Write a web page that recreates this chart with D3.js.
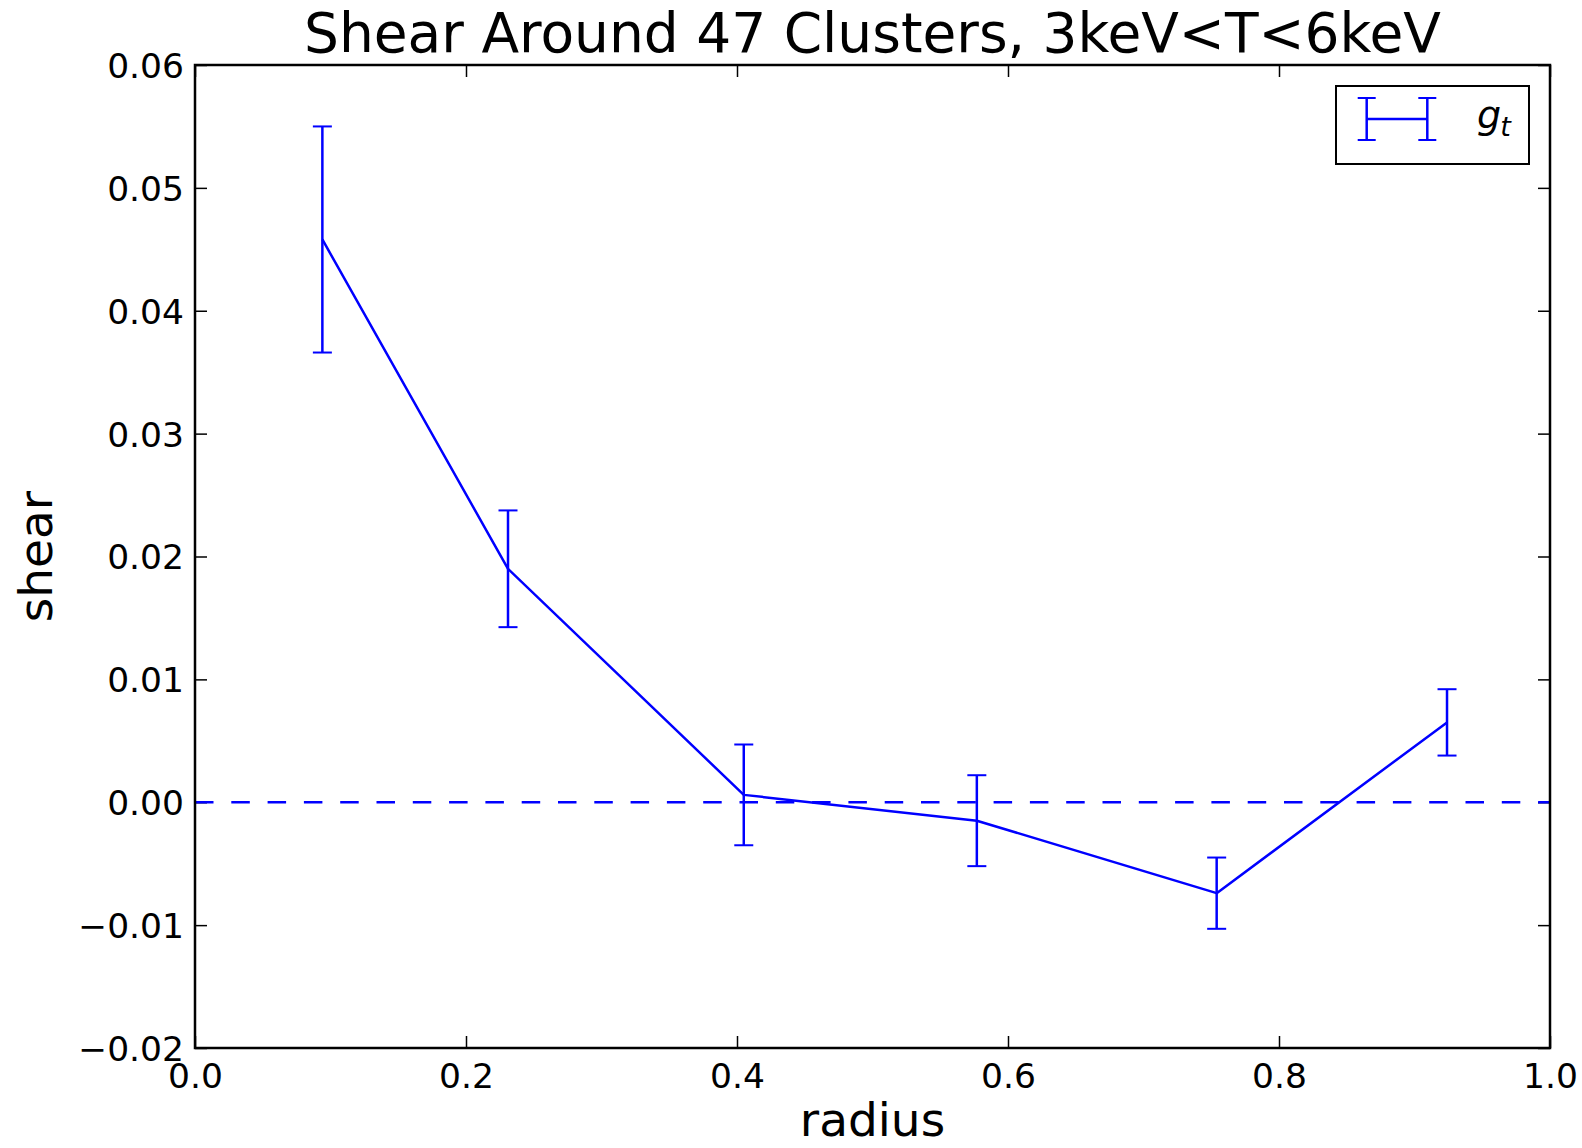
<!DOCTYPE html>
<html>
<head>
<meta charset="utf-8">
<script src="https://cdn.jsdelivr.net/npm/d3@7"></script>
<style>
  html, body { margin: 0; padding: 0; background: #ffffff; }
  svg { display: block; }
  text { font-family: "DejaVu Sans", sans-serif; fill: #000; }
</style>
</head>
<body>
<svg id="chart" width="1582" height="1148"></svg>
<script>
// Tangential shear profile, binned by radius
const radius = [0.094, 0.231, 0.405, 0.577, 0.754, 0.924];
const shear  = [0.0458, 0.0190, 0.0006, -0.0015, -0.0074, 0.0065];
const shearErr = [0.0092, 0.00475, 0.0041, 0.0037, 0.0029, 0.0027];

const xTicks = [0.0, 0.2, 0.4, 0.6, 0.8, 1.0];
const xTickLabels = ["0.0", "0.2", "0.4", "0.6", "0.8", "1.0"];
const yTicks = [-0.02, -0.01, 0.00, 0.01, 0.02, 0.03, 0.04, 0.05, 0.06];
const yTickLabels = ["\u22120.02", "\u22120.01", "0.00", "0.01", "0.02", "0.03", "0.04", "0.05", "0.06"];

const titleText = "Shear Around 47 Clusters, 3keV<T<6keV";
const xLabel = "radius";
const yLabel = "shear";

const W = 1582, H = 1148;
const plot = { left: 195, right: 1550, top: 65, bottom: 1048 };
const blue = "#0000ff";
const tickLen = 12;
const capHalf = 9.5;

const svg = d3.select("#chart");
svg.append("rect").attr("width", W).attr("height", H).attr("fill", "#fff");

const x = d3.scaleLinear().domain([0, 1]).range([plot.left, plot.right]);
const y = d3.scaleLinear().domain([-0.02, 0.06]).range([plot.bottom, plot.top]);

// Axes: ticks point inward on all four sides
function styleAxis(g) {
  g.select(".domain").remove();
  g.selectAll(".tick line").attr("stroke", "#000").attr("stroke-width", 1.5);
}

const axLeft = svg.append("g")
  .attr("transform", `translate(${plot.left},0)`)
  .call(d3.axisLeft(y).tickValues(yTicks)
    .tickFormat((d, i) => yTickLabels[i]).tickSize(-tickLen).tickPadding(11));
styleAxis(axLeft);
axLeft.selectAll(".tick text")
  .attr("font-size", 34.5).attr("font-family", "DejaVu Sans").attr("fill", "#000")
  .attr("dy", "0.36em");

const axBottom = svg.append("g")
  .attr("transform", `translate(0,${plot.bottom})`)
  .call(d3.axisBottom(x).tickValues(xTicks)
    .tickFormat((d, i) => xTickLabels[i]).tickSize(-tickLen).tickPadding(0));
styleAxis(axBottom);
axBottom.selectAll(".tick text")
  .attr("font-size", 34.5).attr("font-family", "DejaVu Sans").attr("fill", "#000")
  .attr("y", 40).attr("dy", 0);

const axRight = svg.append("g")
  .attr("transform", `translate(${plot.right},0)`)
  .call(d3.axisRight(y).tickValues(yTicks).tickFormat("").tickSize(-tickLen));
styleAxis(axRight);

const axTop = svg.append("g")
  .attr("transform", `translate(0,${plot.top})`)
  .call(d3.axisTop(x).tickValues(xTicks).tickFormat("").tickSize(-tickLen));
styleAxis(axTop);

// Zero reference line
svg.append("line")
  .attr("x1", x(0)).attr("x2", x(1))
  .attr("y1", y(0)).attr("y2", y(0))
  .attr("stroke", blue).attr("stroke-width", 2.5)
  .attr("stroke-dasharray", "18.5,17.8");

// Profile line
const pts = radius.map((r, i) => ({ r, v: shear[i], e: shearErr[i] }));
svg.append("path")
  .datum(pts)
  .attr("fill", "none")
  .attr("stroke", blue)
  .attr("stroke-width", 2.5)
  .attr("stroke-linejoin", "round")
  .attr("d", d3.line().x(d => x(d.r)).y(d => y(d.v)));

// Error bars with caps
const eb = svg.append("g").attr("stroke", blue).attr("stroke-width", 2.5);
eb.selectAll(".bar").data(pts).join("line")
  .attr("x1", d => x(d.r)).attr("x2", d => x(d.r))
  .attr("y1", d => y(d.v - d.e)).attr("y2", d => y(d.v + d.e));
eb.selectAll(".capTop").data(pts).join("line")
  .attr("x1", d => x(d.r) - capHalf).attr("x2", d => x(d.r) + capHalf)
  .attr("y1", d => y(d.v + d.e)).attr("y2", d => y(d.v + d.e))
  .attr("stroke-width", 2);
eb.selectAll(".capBot").data(pts).join("line")
  .attr("x1", d => x(d.r) - capHalf).attr("x2", d => x(d.r) + capHalf)
  .attr("y1", d => y(d.v - d.e)).attr("y2", d => y(d.v - d.e))
  .attr("stroke-width", 2);

// Frame
svg.append("rect")
  .attr("x", plot.left).attr("y", plot.top)
  .attr("width", plot.right - plot.left).attr("height", plot.bottom - plot.top)
  .attr("fill", "none").attr("stroke", "#000").attr("stroke-width", 2.5);

// Title and axis labels
svg.append("text")
  .attr("x", (plot.left + plot.right) / 2).attr("y", 52)
  .attr("text-anchor", "middle").attr("font-size", 55)
  .text(titleText);

svg.append("text")
  .attr("x", (plot.left + plot.right) / 2).attr("y", 1136)
  .attr("text-anchor", "middle").attr("font-size", 47)
  .text(xLabel);

svg.append("text")
  .attr("transform", `translate(52,${(plot.top + plot.bottom) / 2}) rotate(-90)`)
  .attr("text-anchor", "middle").attr("font-size", 47)
  .text(yLabel);

// Legend
const leg = svg.append("g");
leg.append("rect")
  .attr("x", 1336).attr("y", 86).attr("width", 193).attr("height", 78)
  .attr("fill", "#fff").attr("stroke", "#000").attr("stroke-width", 2);
const lg = leg.append("g").attr("stroke", blue).attr("stroke-width", 2.5);
const lx0 = 1366.7, lx1 = 1427.3, ly = 119, lh = 21;
lg.append("line").attr("x1", lx0).attr("x2", lx1).attr("y1", ly).attr("y2", ly);
[lx0, lx1].forEach(cx => {
  lg.append("line").attr("x1", cx).attr("x2", cx).attr("y1", ly - lh).attr("y2", ly + lh);
  lg.append("line").attr("x1", cx - 9).attr("x2", cx + 9).attr("y1", ly - lh).attr("y2", ly - lh).attr("stroke-width", 2);
  lg.append("line").attr("x1", cx - 9).attr("x2", cx + 9).attr("y1", ly + lh).attr("y2", ly + lh).attr("stroke-width", 2);
});
const lt = leg.append("text")
  .attr("x", 1477).attr("y", 128)
  .attr("font-family", "'Liberation Serif', 'DejaVu Serif', serif")
  .attr("font-style", "italic").attr("font-size", 38);
lt.append("tspan").text("g");
lt.append("tspan").attr("font-size", 27).attr("dy", 8).attr("dx", -1).text("t");
</script>
</body>
</html>
